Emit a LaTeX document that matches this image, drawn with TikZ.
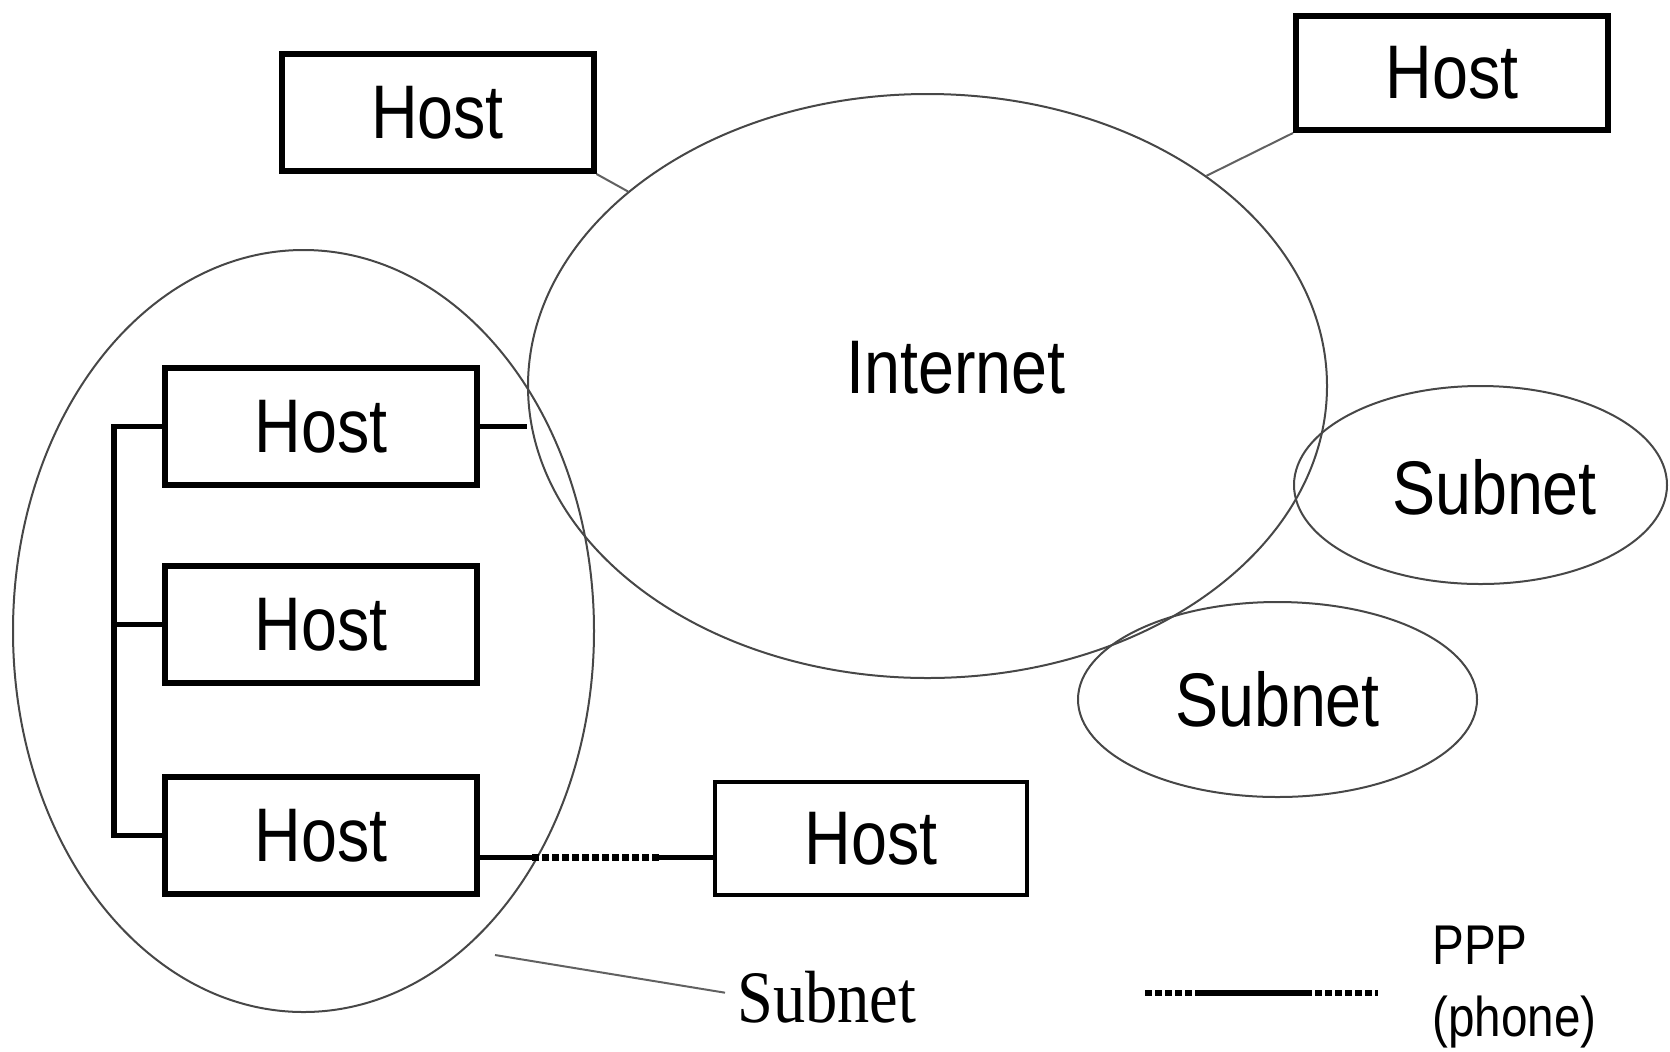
\documentclass[tikz,border=0pt]{standalone}
\usepackage{fontspec}
\setmainfont{Liberation Sans}
\newfontfamily\hostfont[FakeStretch=0.85]{Liberation Sans}
\newfontfamily\notefont[FakeStretch=0.87]{Liberation Serif}
\usetikzlibrary{shapes.geometric}
\begin{document}
\begin{tikzpicture}[x=0.5pt,y=-0.5pt]

\tikzset{hostbox/.style={rectangle,draw,line width=3pt,minimum width=156pt,minimum height=58.5pt,inner sep=0pt,font=\hostfont\fontsize{38}{44}\selectfont},}
\tikzset{netblob/.style={ellipse,draw=black!72,line width=1pt,inner sep=0pt,font=\hostfont\fontsize{38}{44}\selectfont},}
\tikzset{bigtext/.style={inner sep=0pt,font=\hostfont\fontsize{38}{44}\selectfont},}
\tikzset{wire/.style={line width=2.8pt},}
\tikzset{thinwire/.style={draw=black!62,line width=1pt},}
\tikzset{phoneline/.style={line width=3.2pt,dash pattern=on 3.5pt off 1.5pt},}

\useasboundingbox (0,0) rectangle (1670,1051);

%INTERNET AND SUBNETS
\draw (927.5,386) node [netblob,minimum width=399.5pt,minimum height=292pt] (inet) {};
\draw (956,367.5) node [bigtext] (inetlbl) {Internet};
\draw (1480.5,485) node [netblob,minimum width=186.5pt,minimum height=99pt] (subA) {};
\draw (1494.5,487.5) node [bigtext] (subAlbl) {Subnet};
\draw (1277.5,699.5) node [netblob,minimum width=199.5pt,minimum height=97.5pt] (subB) {Subnet};
\draw (303.5,631) node [netblob,minimum width=290.5pt,minimum height=381pt] (subC) {};

%HOSTS
\draw (437.5,112.5) node [hostbox] (hostA) {Host};
\draw (1452,73) node [hostbox,minimum height=57pt] (hostB) {Host};
\draw (321,426.5) node [hostbox] (hostC) {Host};
\draw (321,624.5) node [hostbox] (hostD) {Host};
\draw (321,835.5) node [hostbox] (hostE) {Host};
\draw (871,838.5) node [hostbox,line width=2pt,minimum height=56.5pt] (hostF) {Host};

%LINKS
\draw[thinwire] (hostA.south east) -- (inet.147);
\draw[thinwire] (hostB.south west) -- (inet.37);
\draw[wire] (hostC.east) -- (hostC.east -| inet.west);
\draw[wire] (hostC.west) -| ([xshift=-24pt]hostE.west) -- (hostE.west);
\draw[wire] (hostD.west) -- ++(-48,0);

%PPP LINK
\coordinate (pppL) at ([yshift=-11pt]hostE.east);
\coordinate (pppR) at (pppL -| hostF.west);
\draw[phoneline] ([xshift=26pt]pppL) -- ([xshift=-27pt]pppR);
\draw[wire] (pppL) -- ++(54,0);
\draw[wire] (pppR) -- ++(-56,0);

%SUBNET NOTE
\draw (737,1022) node [anchor=base west,inner sep=0pt,font=\notefont\fontsize{37}{42}\selectfont] (sublbl) {Subnet};
\coordinate (subtip) at (495,955);
\draw[thinwire] (subtip) -- ([xshift=-6pt,yshift=2pt]sublbl.west);

%LEGEND
\coordinate (legL) at (1145,993);
\coordinate (legR) at (1378,993);
\draw[phoneline] (legL) -- (legR);
\draw[wire] ([xshift=28.5pt]legL) -- ([xshift=-33.5pt]legR);
\draw (1432,926) node [anchor=north west,inner sep=0pt,align=left,font=\hostfont\fontsize{28}{36}\selectfont] (legtxt) {PPP\\(phone)};

\end{tikzpicture}
\end{document}
